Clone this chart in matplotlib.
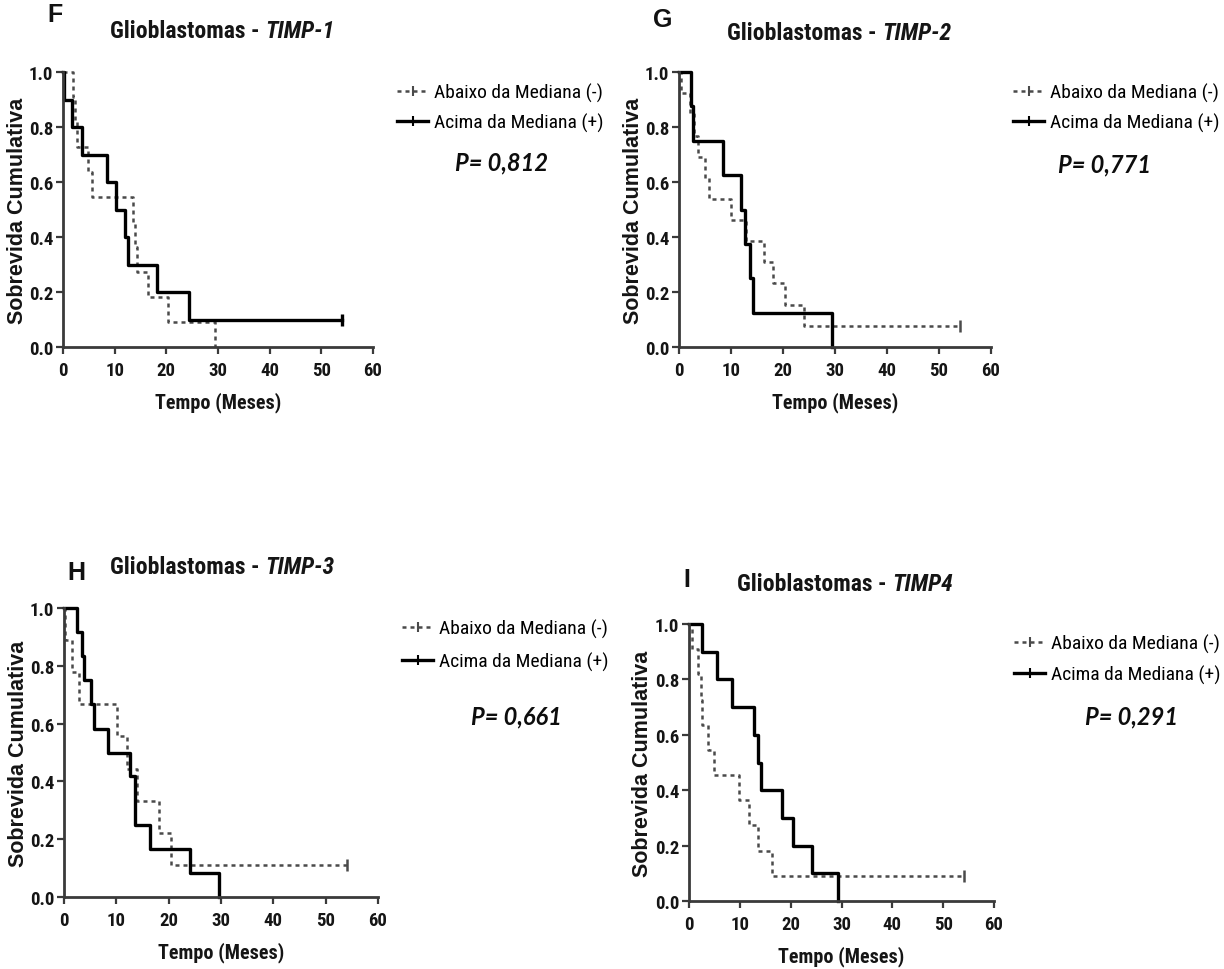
import matplotlib
matplotlib.use('Agg')
import matplotlib.pyplot as plt
from matplotlib import font_manager as fm
from matplotlib.lines import Line2D

W, H = 1224, 970

# Kaplan-Meier curves per TIMP marker: event times (months) and survival after each event
f_below_t = [2.0, 2.3, 2.7, 4.9, 5.7, 13.6, 14.0, 14.4, 16.5, 20.4, 29.5]
f_below_s = [0.909, 0.818, 0.727, 0.636, 0.545, 0.455, 0.364, 0.273, 0.182, 0.091, 0.0]
f_above_t = [0.2, 1.8, 3.6, 8.6, 10.2, 12.0, 12.6, 18.1, 24.3]
f_above_s = [0.9, 0.8, 0.7, 0.6, 0.5, 0.4, 0.3, 0.2, 0.1]
f_below_cens = None
f_above_cens = 54.0

g_below_t = [0.3, 2.1, 2.8, 3.6, 5.0, 5.8, 10.0, 12.9, 16.4, 18.1, 20.4, 24.1]
g_below_s = [0.923, 0.846, 0.769, 0.692, 0.615, 0.538, 0.462, 0.385, 0.308, 0.231, 0.154, 0.077]
g_above_t = [2.4, 2.7, 8.5, 12.0, 12.7, 13.7, 14.2, 29.5]
g_above_s = [0.875, 0.75, 0.625, 0.5, 0.375, 0.25, 0.125, 0.0]
g_below_cens = 54.0
g_above_cens = None

h_below_t = [0.2, 1.6, 2.8, 10.1, 12.1, 13.9, 18.2, 20.4]
h_below_s = [0.889, 0.778, 0.667, 0.556, 0.444, 0.333, 0.222, 0.111]
h_above_t = [2.5, 3.5, 3.9, 5.2, 5.7, 8.5, 12.7, 13.6, 16.5, 24.1, 29.7]
h_above_s = [0.917, 0.833, 0.75, 0.667, 0.583, 0.5, 0.417, 0.25, 0.167, 0.083, 0.0]
h_below_cens = 54.0
h_above_cens = None

i_below_t = [0.5, 1.8, 2.4, 2.6, 3.7, 4.9, 9.9, 11.8, 13.5, 16.4]
i_below_s = [0.909, 0.818, 0.727, 0.636, 0.545, 0.455, 0.364, 0.273, 0.182, 0.091]
i_above_t = [2.5, 5.6, 8.5, 12.7, 13.6, 14.1, 18.2, 20.4, 24.1, 29.4]
i_above_s = [0.9, 0.8, 0.7, 0.6, 0.5, 0.4, 0.3, 0.2, 0.1, 0.0]
i_below_cens = 54.0
i_above_cens = None

letters = ['F', 'G', 'H', 'I']
genes = ['TIMP-1', 'TIMP-2', 'TIMP-3', 'TIMP4']
pvals = ['P= 0,812', 'P= 0,771', 'P= 0,661', 'P= 0,291']
xticks = [0, 10, 20, 30, 40, 50, 60]
yticks = [0.0, 0.2, 0.4, 0.6, 0.8, 1.0]
legend_labels = ['Abaixo da Mediana (-)', 'Acima da Mediana (+)']


def pick_narrow():
    """Look for an installed narrow/condensed sans; fall back to plain Liberation Sans."""
    names = {f.name for f in fm.fontManager.ttflist}
    for name in ['Liberation Sans Narrow', 'Arial Narrow', 'Roboto Condensed',
                 'Open Sans Condensed', 'Noto Sans Condensed', 'DejaVu Sans Condensed']:
        if name in names:
            return dict(family=[name, 'DejaVu Sans'], stretch='normal')
    for f in fm.fontManager.ttflist:
        if f.stretch in ('condensed', 'semi-condensed', 'extra-condensed'):
            return dict(family=[f.name, 'DejaVu Sans'], stretch=f.stretch)
    return dict(family=['Liberation Sans', 'DejaVu Sans'], stretch='normal')


NARROW = pick_narrow()
ARIAL = ['Liberation Sans', 'DejaVu Sans']
CAL = ['Lato', 'DejaVu Sans']

AX_COL = '#3a3a3a'
DASH_COL = '#4a4a4a'


def fx(x):
    return x / W


def fy(y):
    return 1 - y / H


def narrow_props(size, weight='normal', style='normal'):
    return fm.FontProperties(family=NARROW['family'], stretch=NARROW['stretch'],
                             size=size, weight=weight, style=style)


def km_step(ax, t, s, cens, **kw):
    xs = [0.0] + list(t)
    ys = [1.0] + list(s)
    if cens is not None:
        xs.append(cens)
        ys.append(ys[-1])
    line, = ax.step(xs, ys, where='post', clip_on=False, **kw)
    if cens is not None:
        ax.plot([cens], [ys[-1]], marker='|', ms=9, mew=kw.get('lw', 1.5),
                color=kw.get('color'), clip_on=False)
    return line


# panel layout in pixels: axes box (left, top, right, bottom), letter, title, ylabel x, legend, P value
panels = [
    dict(box=(63, 73, 373, 348), letter=(55, 15), title=(110, 32), ylab=18,
         leg=(397, 83.5, 31), pv=(502, 163),
         data=(f_below_t, f_below_s, f_below_cens, f_above_t, f_above_s, f_above_cens)),
    dict(box=(679, 73, 991, 348), letter=(663, 20), title=(727, 33), ylab=633,
         leg=(1013, 83.5, 31), pv=(1105, 165),
         data=(g_below_t, g_below_s, g_below_cens, g_above_t, g_above_s, g_above_cens)),
    dict(box=(64, 609, 378, 898), letter=(76, 573), title=(110, 567), ylab=19,
         leg=(402, 619.5, 34), pv=(516, 717),
         data=(h_below_t, h_below_s, h_below_cens, h_above_t, h_above_s, h_above_cens)),
    dict(box=(689, 625, 994, 902), letter=(687, 580), title=(737, 585), ylab=642,
         leg=(1014, 634.5, 32), pv=(1132, 717),
         data=(i_below_t, i_below_s, i_below_cens, i_above_t, i_above_s, i_above_cens)),
]

LEG_PX = 14 * 100 / 72

fig = plt.figure(figsize=(W / 100, H / 100), dpi=100)
fig.patch.set_facecolor('white')

title_parts = []
for k, p in enumerate(panels):
    l, t, r, b = p['box']
    ax = fig.add_axes([fx(l), fy(b), (r - l) / W, (b - t) / H])
    bt, bs, bc, at, as_, ac = p['data']

    km_step(ax, bt, bs, bc, color=DASH_COL, lw=1.8, ls=(0, (1.6, 1.6)))
    km_step(ax, at, as_, ac, color='black', lw=2.4)

    ax.set_xlim(0, 60)
    ax.set_ylim(0, 1.0)
    ax.set_xticks(xticks)
    ax.set_yticks(yticks)
    ax.set_yticklabels(['%.1f' % v for v in yticks])
    for side in ['top', 'right']:
        ax.spines[side].set_visible(False)
    for side in ['left', 'bottom']:
        ax.spines[side].set_color(AX_COL)
        ax.spines[side].set_linewidth(2.0)
    ax.tick_params(direction='out', length=5, width=1.6, color=AX_COL, pad=2)
    ax.tick_params(axis='x', pad=5)
    for lab in ax.get_xticklabels() + ax.get_yticklabels():
        lab.set_fontproperties(narrow_props(13.5, weight='bold'))
        lab.set_color('#151515')

    ax.set_xlabel('Tempo (Meses)', fontproperties=narrow_props(14.5, weight='bold'),
                  color='#151515', labelpad=9)

    fig.text(fx(p['ylab']), fy((t + b) / 2), 'Sobrevida Cumulativa', rotation=90,
             ha='center', va='center', family=ARIAL, fontweight='bold', fontsize=15.5,
             color='#151515')

    fig.text(fx(p['letter'][0]), fy(p['letter'][1]), letters[k], ha='center', va='center',
             family=ARIAL, fontweight='bold', fontsize=18, color='#111111')

    t1 = fig.text(fx(p['title'][0]), fy(p['title'][1]), 'Glioblastomas - ', ha='left',
                  va='center', fontproperties=narrow_props(17, weight='bold'),
                  color='#151515')
    t2 = fig.text(0, 0, genes[k], ha='left', va='center',
                  fontproperties=narrow_props(17, weight='bold', style='italic'),
                  color='#151515')
    title_parts.append((t1, t2))

    lx, ly, sp = p['leg']
    handles = [
        Line2D([], [], color=DASH_COL, lw=1.8, ls=(0, (1.6, 1.6)), marker='|', ms=7, mew=1.5),
        Line2D([], [], color='black', lw=2.4, marker='|', ms=7, mew=1.5),
    ]
    fig.legend(handles, legend_labels, loc='upper left',
               bbox_to_anchor=(fx(lx), fy(ly)), bbox_transform=fig.transFigure,
               frameon=False, borderpad=0, borderaxespad=0, numpoints=1,
               handlelength=1.6, handletextpad=0.3,
               labelspacing=(sp - LEG_PX) / LEG_PX,
               prop=narrow_props(14))

    fig.text(fx(p['pv'][0]), fy(p['pv'][1]), pvals[k], ha='center', va='center',
             family=CAL, fontweight='bold', fontstyle='italic', fontsize=17,
             color='#0d0d0d')

# the italic gene name follows the plain part of each title
fig.canvas.draw()
renderer = fig.canvas.get_renderer()
for t1, t2 in title_parts:
    bb = t1.get_window_extent(renderer)
    x_end = fig.transFigure.inverted().transform((bb.x1, 0))[0]
    t2.set_position((x_end, t1.get_position()[1]))

fig.savefig('out.png', dpi=100, facecolor='white')
